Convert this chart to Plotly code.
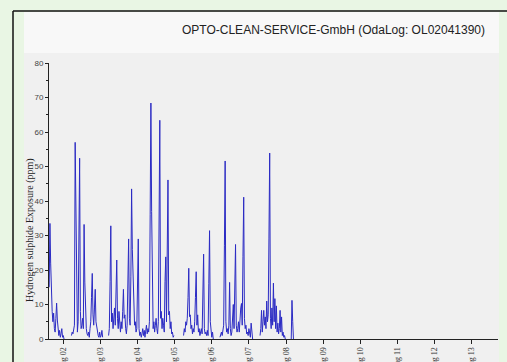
import pandas as pd
import plotly.graph_objects as go

# ---- data ----
# logger interval: 0.02 day; each segment: start day (day-of-August), readings in ppm
seg_start = [1.62, 2.22, 3.22, 5.24, 6.22, 7.30, 8.14]
seg_a = [15, 33.5, 22, 12, 8, 5, 7.5, 3, 2, 6, 10.4, 5.5, 2, 1, 2.5, 0.5, 1.5, 3, 0.5, 1, 0]
seg_b = [1, 2, 1.5, 3, 4, 57, 31, 4, 2, 5, 26.5, 52.4, 8, 3, 4, 6, 3, 33.2, 16.5, 5,
         3, 1.5, 1, 2, 0.5, 3, 5, 12, 19, 7, 4, 9, 14.4, 5, 3, 2, 1, 0.5, 2, 0.5, 1, 2.5, 0.5]
seg_c = [1, 3, 16.6, 32.8, 5, 7.5, 3, 8.5, 9, 4, 12, 22.9, 6, 3, 8, 4, 2, 5, 3, 8,
         14.4, 6, 7, 3, 1.5, 4, 17, 29, 6, 4, 18, 43.5, 26, 17.5, 8, 4, 5, 2, 3, 16,
         29, 3, 1, 2, 0.5, 1.5, 3, 1, 2.5, 0.5, 2, 4, 1.5, 3, 2, 5, 36, 68.4, 37, 8,
         3, 5, 2, 4, 6, 3, 1.5, 5, 35, 63.4, 6, 8, 3, 6, 4, 2, 16.6, 23.8, 5, 28.5,
         46.1, 7, 8, 3, 5, 1.5, 2, 0.5, 1]
seg_d = [1, 3, 2, 5, 4, 6, 12, 20.5, 6.5, 7, 3, 4, 1.5, 3, 2, 5, 12, 19.5, 4, 7,
         2, 3, 1, 2, 3, 1.5, 13, 24.6, 3, 1.5, 2, 1, 2.5, 1, 16, 31.4, 5, 1, 0.5, 2, 0]
seg_e = [0.5, 1, 2, 1, 3, 4, 27, 51.6, 5, 2, 3, 1.5, 4, 16.4, 3, 1, 2, 5, 10, 3,
         12, 27.4, 4, 2, 3, 5, 2, 7, 9, 10.3, 4, 24, 41.1, 6, 3, 4, 1.5, 2, 1, 3,
         1, 0.5, 4.6, 1, 0]
seg_f = [1, 3, 8.3, 2, 5, 8.3, 4, 6.4, 3, 11, 5, 7, 29, 53.9, 6, 3, 9, 4, 16.2, 5,
         11.7, 3, 9.6, 2, 4.6, 1.5, 3, 8.3, 2, 6.4, 1, 2, 0.5, 1, 0]
seg_g = [0, 11.2, 5, 0]
segments = [seg_a, seg_b, seg_c, seg_d, seg_e, seg_f, seg_g]
interval_days = 0.02

title_text = "OPTO-CLEAN-SERVICE-GmbH (OdaLog: OL02041390)"
y_title = "Hydrogen sulphide Exposure (ppm)"
y_ticks = [0, 10, 20, 30, 40, 50, 60, 70, 80]
x_range_days = [1.615, 13.71]

base = pd.Timestamp("2014-08-01")


def to_time(day):
    return base + pd.to_timedelta(day - 1, unit="D")


xs, ys = [], []
for start, vals in zip(seg_start, segments):
    for i, v in enumerate(vals):
        xs.append(to_time(start + i * interval_days))
        ys.append(v)
    xs.append(None)
    ys.append(None)

fig = go.Figure()
fig.add_trace(go.Scatter(x=xs, y=ys, mode="lines", connectgaps=False,
                         line=dict(color="#2b2bc4", width=1), hoverinfo="skip"))

# figure geometry: plot area x 49..498, y 63..339 (px)
W, H = 507, 362
L, R, T, B = 49, 9, 63, 23
pw, ph = W - L - R, H - T - B


def px(x):
    return (x - L) / pw


def py(y):
    return (H - B - y) / ph


shapes = [
    dict(type="rect", xref="paper", yref="paper", x0=px(24), x1=px(499), y0=py(362), y1=py(53),
         fillcolor="#f0f0f0", line=dict(width=0), layer="below"),
    dict(type="rect", xref="paper", yref="paper", x0=px(24), x1=px(499), y0=py(53), y1=py(12),
         fillcolor="#f8f8f8", line=dict(width=0), layer="below"),
    dict(type="line", xref="paper", yref="paper", x0=px(13), x1=px(13), y0=py(362), y1=py(11),
         line=dict(color="#111111", width=1.5)),
    dict(type="line", xref="paper", yref="paper", x0=px(13), x1=px(507), y0=py(11), y1=py(11),
         line=dict(color="#111111", width=1.5)),
]

annotations = [
    dict(text=title_text, xref="paper", yref="paper", x=px(487), y=py(30),
         xanchor="right", yanchor="middle", showarrow=False,
         font=dict(family="Liberation Sans, Arial, sans-serif", size=12, color="#222222")),
    dict(text=y_title, xref="paper", yref="paper", x=px(30), y=py(230),
         xanchor="center", yanchor="middle", showarrow=False, textangle=-90,
         font=dict(family="Liberation Serif, Times New Roman, serif", size=10, color="#222222")),
]

fig.update_layout(
    width=W, height=H,
    margin=dict(l=L, r=R, t=T, b=B, pad=0, autoexpand=False),
    paper_bgcolor="#e9f6e4",
    plot_bgcolor="#f0f0f0",
    showlegend=False,
    shapes=shapes,
    annotations=annotations,
    xaxis=dict(
        type="date", automargin=False,
        range=[to_time(x_range_days[0]), to_time(x_range_days[1])],
        tickmode="linear", tick0=to_time(2), dtick=86400000,
        tickformat="%b %d", tickangle=-90,
        ticks="outside", ticklen=4, tickcolor="#222222", tickwidth=1,
        showline=True, linecolor="#222222", linewidth=1,
        showgrid=False, zeroline=False,
        tickfont=dict(family="Liberation Serif, Times New Roman, serif", size=8, color="#333333"),
    ),
    yaxis=dict(
        automargin=False,
        range=[0, 80], tickmode="array", tickvals=y_ticks,
        ticks="outside", ticklen=3, tickcolor="#222222", tickwidth=1,
        minor=dict(dtick=5, ticks="outside", ticklen=2, tickcolor="#222222"),
        showline=True, linecolor="#222222", linewidth=1,
        showgrid=False, zeroline=False,
        tickfont=dict(family="Liberation Sans, Arial, sans-serif", size=8, color="#444444"),
    ),
)

fig.write_html("out.html", config={"displayModeBar": False},
               post_script="document.body.style.margin='0px';document.body.style.overflow='hidden';")
